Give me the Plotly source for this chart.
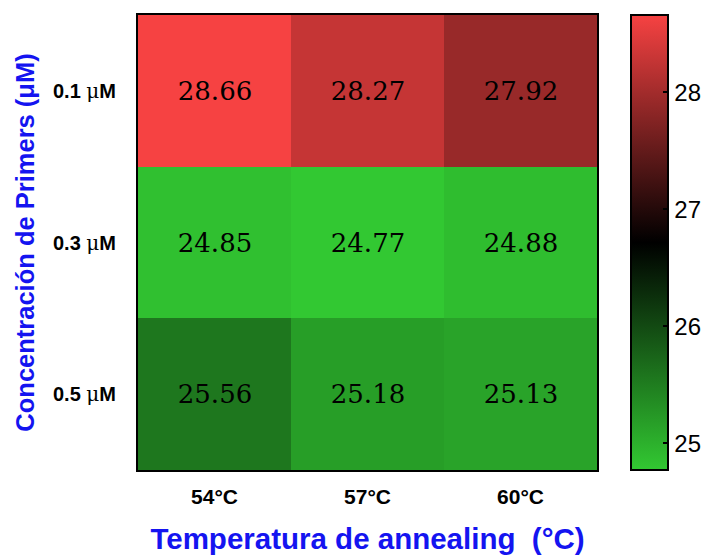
import plotly.graph_objects as go

temps = ["54°C", "57°C", "60°C"]
concs = ["0.1 μM", "0.3 μM", "0.5 μM"]
ct_01 = [28.66, 28.27, 27.92]
ct_03 = [24.85, 24.77, 24.88]
ct_05 = [25.56, 25.18, 25.13]
z = [ct_01, ct_03, ct_05]
cbar_ticks = [25, 26, 27, 28]

green = "rgb(50,200,50)"
red = "rgb(246,66,66)"

mu = "<span style='font-family:DejaVu Serif;font-weight:normal'>μ</span>"
conc_ticktext = [c.replace("μ", mu) for c in concs]

zmin = min(min(r) for r in z)
zmax = max(max(r) for r in z)

fig = go.Figure(go.Heatmap(
    x=temps, y=concs, z=z, zmin=zmin, zmax=zmax,
    colorscale=[[0, green], [0.5, "rgb(0,0,0)"], [1, red]],
    texttemplate="%{z:.2f}",
    textfont=dict(family="DejaVu Serif", size=26, color="black"),
    colorbar=dict(
        x=1.074, xanchor="left", y=0.5, yanchor="middle", len=1.0, lenmode="fraction",
        thickness=37, outlinewidth=2, outlinecolor="black",
        tickvals=cbar_ticks, ticks="inside", ticklen=6, tickwidth=2, tickcolor="black",
        tickfont=dict(family="Liberation Sans, Arial", size=24, color="black"),
        ypad=0, xpad=0,
    ),
))

fig.update_layout(
    width=715, height=556,
    margin=dict(l=130, r=126, t=7, b=94, autoexpand=False),
    paper_bgcolor="white", plot_bgcolor="white",
    xaxis=dict(
        showline=True, linecolor="black", linewidth=2, mirror=True, automargin=False,
        ticks="", ticklabelstandoff=7,
        tickfont=dict(family="Liberation Sans, Arial", size=21, color="black", weight="bold"),
        title=dict(text="Temperatura de annealing\u00a0\u00a0(°C)", standoff=21,
                   font=dict(family="Liberation Sans, Arial", size=29.5, color="#1414F0", weight="bold")),
    ),
    yaxis=dict(
        showline=True, linecolor="black", linewidth=2, mirror=True, automargin=False,
        autorange="reversed", ticks="", ticklabelstandoff=16,
        tickmode="array", tickvals=concs, ticktext=conc_ticktext,
        tickfont=dict(family="Liberation Sans, Arial", size=20, color="black", weight="bold"),
        title=dict(text="Concentración de Primers (μM)", standoff=11,
                   font=dict(family="Liberation Sans, Arial", size=25.5, color="#1414F0", weight="bold")),
    ),
)

fig.write_html("out.html")
